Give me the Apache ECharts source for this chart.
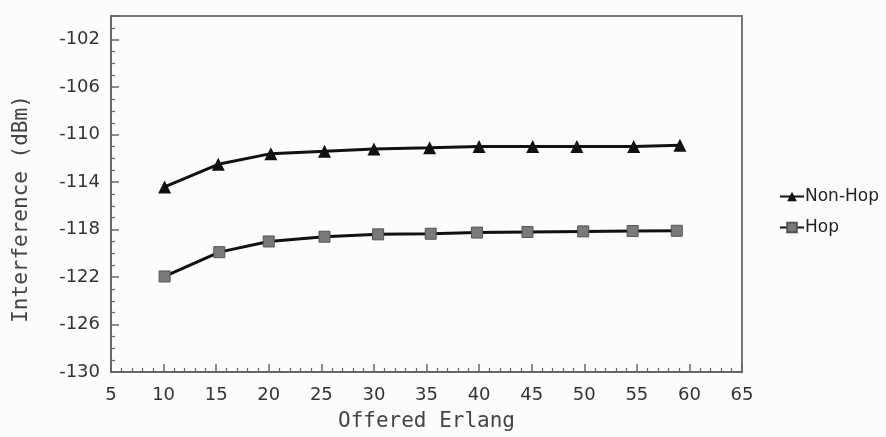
<!DOCTYPE html>
<html>
<head>
<meta charset="utf-8">
<script src="https://cdn.jsdelivr.net/npm/echarts@6/dist/echarts.min.js"></script>
<style>
html,body{margin:0;padding:0;background:#fcfcfc;}
#chart{width:886px;height:437px;}
</style>
</head>
<body>
<div id="chart"></div>
<script>
var seriesNames = ['Non-Hop', 'Hop'];
var nonHopX = [10.1, 15.2, 20.2, 25.3, 30.0, 35.3, 40.0, 45.1, 49.3, 54.7, 59.1];
var nonHopY = [-114.4, -112.5, -111.6, -111.4, -111.2, -111.1, -111.0, -111.0, -111.0, -111.0, -110.9];
var hopX = [10.1, 15.3, 20.0, 25.3, 30.4, 35.4, 39.8, 44.6, 49.9, 54.6, 58.8];
var hopY = [-121.95, -119.9, -119.0, -118.6, -118.4, -118.35, -118.25, -118.2, -118.15, -118.12, -118.1];
var xTitle = 'Offered Erlang';
var yTitle = 'Interference (dBm)';

function pairs(xs, ys) { return xs.map(function (x, i) { return [x, ys[i]]; }); }

var chart = echarts.init(document.getElementById('chart'));
var labelFont = { fontFamily: 'DejaVu Sans', fontSize: 18, color: '#333' };
chart.setOption({
  backgroundColor: '#fcfcfc',
  animation: false,
  grid: { left: 111, top: 16, width: 631, height: 358, show: true, borderColor: '#777', borderWidth: 2, backgroundColor: 'transparent' },
  graphic: [{
    type: 'text', x: 22, y: 209, rotation: Math.PI / 2,
    style: { text: yTitle, fontFamily: 'DejaVu Sans Mono', fontSize: 21, fill: '#444', align: 'center', verticalAlign: 'middle' }
  }],
  legend: {
    orient: 'vertical', left: 774, top: 183,
    itemWidth: 24, itemHeight: 12, itemGap: 14,
    textStyle: { fontFamily: 'DejaVu Sans', fontSize: 17, color: '#222', lineHeight: 17, padding: [0, 0, 0, -4] },
    data: seriesNames
  },
  xAxis: {
    type: 'value', min: 5, max: 65, interval: 5,
    name: xTitle, nameLocation: 'middle', nameGap: 39,
    nameTextStyle: { fontFamily: 'DejaVu Sans Mono', fontSize: 21, color: '#444' },
    axisLine: { show: true, onZero: false, lineStyle: { color: '#666', width: 2 } },
    axisTick: { show: true, inside: true, length: 8, lineStyle: { color: '#666', width: 1.5 } },
    minorTick: { show: true, splitNumber: 5, length: 4, lineStyle: { color: '#666', width: 1.2 } },
    splitLine: { show: false },
    axisLabel: Object.assign({ margin: 14 }, labelFont)
  },
  yAxis: {
    type: 'value', min: -130, max: -100, interval: 4,
    axisLine: { show: true, onZero: false, lineStyle: { color: '#666', width: 2 } },
    axisTick: { show: true, inside: true, length: 8, lineStyle: { color: '#666', width: 1.5 } },
    minorTick: { show: true, splitNumber: 4, length: 4, lineStyle: { color: '#666', width: 1.2 } },
    splitLine: { show: false },
    axisLabel: Object.assign({ margin: 11, showMaxLabel: false }, labelFont)
  },
  series: [
    {
      name: seriesNames[0], type: 'line', data: pairs(nonHopX, nonHopY),
      symbol: 'triangle', symbolSize: 13,
      lineStyle: { color: '#111', width: 3 },
      itemStyle: { color: '#111' }
    },
    {
      name: seriesNames[1], type: 'line', data: pairs(hopX, hopY),
      symbol: 'rect', symbolSize: 11,
      lineStyle: { color: '#111', width: 3 },
      itemStyle: { color: '#7a7a7a', borderColor: '#555', borderWidth: 1 }
    }
  ]
});
</script>
</body>
</html>
